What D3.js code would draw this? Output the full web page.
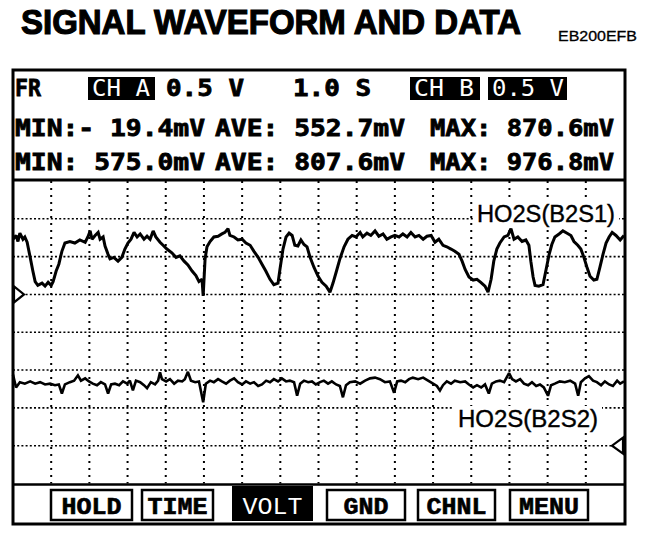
<!DOCTYPE html>
<html><head><meta charset="utf-8">
<script src="https://cdn.jsdelivr.net/npm/d3@7"></script>
<style>body{margin:0;background:#fff}svg{display:block}</style>
</head><body><svg id="c" width="672" height="542"></svg>
<script>
// ---------- DATA ----------
const title = "SIGNAL WAVEFORM AND DATA";
const code = "EB200EFB";
const headerItems = ["FR", "CH A", "0.5 V", "1.0 S", "CH B", "0.5 V"];
const statsA = ["MIN:- 19.4mV", "AVE: 552.7mV", "MAX: 870.6mV"];
const statsB = ["MIN: 575.0mV", "AVE: 807.6mV", "MAX: 976.8mV"];
const labelA = "HO2S(B2S1)";
const labelB = "HO2S(B2S2)";
const buttons = ["HOLD", "TIME", "VOLT", "GND", "CHNL", "MENU"];
const timeDomain = [0, 16];          // 1.0 s/div, 16 divisions
const voltsPerDiv = 0.5;

// channel A (HO2S B2S1): seconds / volts
const aTime = [0,0.08,0.13,0.18,0.26,0.31,0.37,0.45,0.52,0.58,0.65,0.76,0.84,0.92,1.0,1.05,1.13,1.2,1.28,1.36,1.49,1.62,1.75,1.89,1.96,2.02,2.07,2.15,2.23,2.28,2.36,2.41,2.49,2.54,2.64,2.75,2.85,2.93,3.01,3.09,3.17,3.25,3.33,3.43,3.51,3.59,3.67,3.74,3.85,3.93,4.03,4.16,4.27,4.37,4.48,4.58,4.69,4.79,4.87,4.95,4.98,5.03,5.08,5.16,5.26,5.37,5.47,5.55,5.63,5.68,5.79,5.89,6.0,6.1,6.21,6.31,6.42,6.52,6.62,6.73,6.83,6.94,6.99,7.07,7.15,7.23,7.31,7.38,7.46,7.54,7.62,7.7,7.78,7.88,7.99,8.09,8.2,8.3,8.38,8.46,8.56,8.67,8.77,8.88,8.98,9.09,9.16,9.27,9.37,9.48,9.58,9.69,9.79,9.9,10.0,10.11,10.21,10.32,10.42,10.53,10.63,10.74,10.84,10.95,11.05,11.15,11.26,11.36,11.47,11.57,11.68,11.76,11.84,11.94,12.05,12.15,12.25,12.36,12.44,12.52,12.59,12.67,12.75,12.86,12.96,13.04,13.12,13.22,13.33,13.43,13.51,13.56,13.62,13.67,13.77,13.88,13.96,14.04,14.11,14.19,14.3,14.4,14.51,14.61,14.69,14.79,14.87,14.95,15.03,15.11,15.21,15.29,15.37,15.45,15.53,15.61,15.69,15.79,15.9,16.0];
const aVolt = [0.73,0.78,0.70,0.81,0.73,0.76,0.69,0.49,0.31,0.17,0.12,0.15,0.11,0.16,0.12,0.17,0.31,0.40,0.57,0.68,0.70,0.68,0.72,0.69,0.76,0.84,0.73,0.78,0.82,0.73,0.76,0.64,0.53,0.47,0.49,0.44,0.49,0.60,0.68,0.73,0.82,0.76,0.80,0.73,0.77,0.73,0.84,0.76,0.69,0.65,0.60,0.55,0.49,0.51,0.44,0.39,0.31,0.25,0.17,0.20,-0.019,0.47,0.63,0.70,0.76,0.77,0.80,0.82,0.87,0.78,0.76,0.72,0.73,0.68,0.65,0.57,0.49,0.40,0.31,0.20,0.13,0.15,0.33,0.60,0.76,0.81,0.78,0.65,0.64,0.72,0.66,0.63,0.49,0.36,0.24,0.16,0.11,0.03,0.15,0.29,0.47,0.63,0.73,0.78,0.76,0.82,0.76,0.81,0.78,0.84,0.77,0.80,0.73,0.76,0.78,0.76,0.80,0.76,0.82,0.76,0.78,0.73,0.77,0.78,0.69,0.73,0.65,0.63,0.60,0.57,0.53,0.44,0.33,0.23,0.19,0.20,0.16,0.11,0.03,0.20,0.44,0.60,0.68,0.76,0.78,0.87,0.73,0.76,0.70,0.72,0.65,0.44,0.23,0.12,0.11,0.13,0.33,0.53,0.66,0.76,0.80,0.84,0.81,0.78,0.70,0.65,0.60,0.49,0.36,0.24,0.19,0.20,0.36,0.53,0.68,0.76,0.82,0.78,0.72,0.78];

// channel B (HO2S B2S2): seconds / volts
const bTime = [0,0.08,0.18,0.31,0.45,0.58,0.71,0.84,0.97,1.10,1.20,1.28,1.36,1.49,1.60,1.70,1.78,1.89,1.99,2.09,2.20,2.30,2.41,2.49,2.57,2.67,2.78,2.88,2.99,3.06,3.14,3.22,3.33,3.43,3.51,3.61,3.72,3.80,3.85,3.90,4.01,4.11,4.22,4.32,4.43,4.50,4.58,4.66,4.77,4.87,4.98,5.05,5.16,5.26,5.37,5.47,5.58,5.68,5.79,5.89,6.00,6.10,6.21,6.31,6.42,6.52,6.63,6.73,6.83,6.94,7.04,7.15,7.25,7.36,7.44,7.52,7.62,7.73,7.83,7.93,8.04,8.14,8.25,8.35,8.46,8.56,8.64,8.72,8.82,8.96,9.09,9.22,9.35,9.48,9.61,9.74,9.87,9.98,10.06,10.16,10.27,10.37,10.47,10.61,10.74,10.87,11.00,11.10,11.18,11.26,11.36,11.47,11.57,11.71,11.84,11.94,12.05,12.15,12.26,12.36,12.46,12.54,12.65,12.75,12.86,12.99,13.07,13.17,13.28,13.38,13.49,13.59,13.70,13.80,13.90,14.01,14.09,14.19,14.32,14.45,14.59,14.72,14.80,14.87,14.98,15.08,15.19,15.29,15.40,15.50,15.61,15.71,15.82,15.90,16.00];
const bVolt = [0.94,0.77,0.84,0.82,0.85,0.82,0.84,0.81,0.82,0.80,0.81,0.69,0.81,0.84,0.86,0.93,0.86,0.89,0.85,0.82,0.80,0.84,0.81,0.69,0.81,0.82,0.80,0.85,0.82,0.86,0.73,0.86,0.84,0.80,0.76,0.84,0.81,0.86,0.97,0.88,0.85,0.88,0.82,0.86,0.85,0.88,0.977,0.86,0.84,0.85,0.575,0.82,0.86,0.84,0.88,0.85,0.82,0.86,0.89,0.84,0.81,0.85,0.82,0.84,0.79,0.81,0.86,0.84,0.88,0.85,0.89,0.85,0.86,0.84,0.66,0.82,0.86,0.84,0.85,0.81,0.84,0.86,0.82,0.85,0.81,0.79,0.64,0.80,0.84,0.85,0.82,0.86,0.89,0.90,0.88,0.84,0.85,0.70,0.85,0.86,0.84,0.88,0.90,0.88,0.90,0.86,0.82,0.79,0.73,0.80,0.85,0.82,0.86,0.84,0.85,0.81,0.77,0.80,0.77,0.81,0.69,0.82,0.85,0.86,0.84,0.96,0.88,0.85,0.88,0.82,0.80,0.84,0.79,0.81,0.77,0.66,0.80,0.82,0.85,0.84,0.86,0.82,0.66,0.84,0.89,0.92,0.86,0.84,0.80,0.85,0.81,0.79,0.86,0.82,0.85];

// ---------- LAYOUT ----------
const svg = d3.select("#c");
const L = 13, R = 624, T = 181, B = 483.5;
const x = d3.scaleLinear().domain(timeDomain).range([L, R]);
// 8 divisions of 0.5 V; CH A ground 3 div from top, CH B ground 7 div from top
const yA = d3.scaleLinear().domain([-5 * voltsPerDiv, 3 * voltsPerDiv]).range([B, T]);
const yB = d3.scaleLinear().domain([-1 * voltsPerDiv, 7 * voltsPerDiv]).range([B, T]);

// title
svg.append("text").attr("x", 21).attr("y", 34)
  .attr("font-family", "Liberation Sans, Arial, sans-serif").attr("font-weight", "bold")
  .attr("font-size", 35).attr("textLength", 500).attr("lengthAdjust", "spacingAndGlyphs")
  .attr("stroke", "#000").attr("stroke-width", 1.2)
  .text(title);
svg.append("text").attr("x", 558).attr("y", 41)
  .attr("font-family", "Liberation Sans, Arial, sans-serif")
  .attr("font-size", 14).attr("textLength", 79).attr("lengthAdjust", "spacingAndGlyphs")
  .attr("stroke", "#000").attr("stroke-width", 0.3)
  .text(code);

// grid
const g = svg.append("g");
const vTicks = x.ticks(16).filter(t => t > timeDomain[0] && t < timeDomain[1]);
g.selectAll("line.v").data(vTicks).join("line")
  .attr("x1", d => x(d)).attr("x2", d => x(d)).attr("y1", T).attr("y2", B)
  .attr("stroke", "#000").attr("stroke-width", 2).attr("stroke-dasharray", "2,5");
const hTicks = d3.range(-4, 3).map(k => k * voltsPerDiv);
g.selectAll("line.h").data(hTicks).join("line")
  .attr("x1", L).attr("x2", R).attr("y1", d => yA(d)).attr("y2", d => yA(d))
  .attr("stroke", "#000").attr("stroke-width", 1.6).attr("stroke-dasharray", "2,2.2");

// labels with white background
function label(txt, x0, base, w) {
  svg.append("rect").attr("x", x0 - 4).attr("y", base - 21).attr("width", w + 8).attr("height", 26).attr("fill", "#fff");
  svg.append("text").attr("x", x0).attr("y", base)
    .attr("font-family", "Liberation Sans, Arial, sans-serif").attr("font-size", 23)
    .attr("stroke", "#000").attr("stroke-width", 0.4)
    .attr("textLength", w).attr("lengthAdjust", "spacingAndGlyphs").text(txt);
}
label(labelA, 477, 222, 138);
label(labelB, 458, 427, 140);

// traces
const lineA = d3.line().x(d => x(d[0])).y(d => yA(d[1]));
const lineB = d3.line().x(d => x(d[0])).y(d => yB(d[1]));
svg.append("path").datum(d3.zip(aTime, aVolt)).attr("d", lineA)
  .attr("fill", "none").attr("stroke", "#000").attr("stroke-width", 3).attr("stroke-linejoin", "miter").attr("stroke-miterlimit", 2);
svg.append("path").datum(d3.zip(bTime, bVolt)).attr("d", lineB)
  .attr("fill", "none").attr("stroke", "#000").attr("stroke-width", 2.6).attr("stroke-linejoin", "miter").attr("stroke-miterlimit", 2);

// ground markers
const ga = yA(0), gb = yB(0);
svg.append("path").attr("d", `M${L+1},${ga-8}L${L+11},${ga}L${L+1},${ga+8}Z`)
  .attr("fill", "#fff").attr("stroke", "#000").attr("stroke-width", 2.2);
svg.append("path").attr("d", `M${R-1},${gb-8}L${R-12},${gb}L${R-1},${gb+8}Z`)
  .attr("fill", "#fff").attr("stroke", "#000").attr("stroke-width", 2.2);

// frame
svg.append("rect").attr("x", 13).attr("y", 70).attr("width", 612).attr("height", 454)
  .attr("fill", "none").attr("stroke", "#000").attr("stroke-width", 3);
svg.append("line").attr("x1", 13).attr("x2", 625).attr("y1", 180).attr("y2", 180).attr("stroke", "#000").attr("stroke-width", 3);
svg.append("line").attr("x1", 13).attr("x2", 625).attr("y1", 484.5).attr("y2", 484.5).attr("stroke", "#000").attr("stroke-width", 2.5);

// header
const mono = "DejaVu Sans Mono, Liberation Mono, monospace";
const hdrBoxes = [null, [88, 155], null, null, [410, 480], [488, 567]];
const hdrX = [15, 92, 166, 293, 414, 492];
const hdrW = [26, 58, 78, 78, 60, 72];
headerItems.forEach((t, i) => {
  const inv = hdrBoxes[i];
  if (inv) svg.append("rect").attr("x", inv[0]).attr("y", 77).attr("width", inv[1] - inv[0]).attr("height", 23).attr("fill", "#000");
  svg.append("text").attr("x", hdrX[i]).attr("y", 96)
    .attr("font-family", mono).attr("font-size", 23)
    .attr("font-weight", inv ? "normal" : "bold")
    .attr("fill", inv ? "#fff" : "#000")
    .attr("stroke", inv ? "none" : "#000").attr("stroke-width", 0.8)
    .attr("textLength", hdrW[i]).attr("lengthAdjust", "spacingAndGlyphs").text(t);
});
const statX = [15, 215, 430];
const statW = [190, 190, 184];
[[statsA, 136], [statsB, 170]].forEach(([arr, base]) => {
  arr.forEach((t, i) => {
    svg.append("text").attr("x", statX[i]).attr("y", base)
      .attr("font-family", mono).attr("font-size", 23).attr("font-weight", "bold")
      .attr("stroke", "#000").attr("stroke-width", 0.8)
      .attr("textLength", statW[i]).attr("lengthAdjust", "spacingAndGlyphs").text(t);
  });
});

// buttons
const btnBoxes = [[51, 132], [142, 213], [232, 313], [327, 405], [418, 495], [510, 588]];
buttons.forEach((t, i) => {
  const [x0, x1] = btnBoxes[i];
  const active = t === "VOLT";
  if (active) {
    svg.append("rect").attr("x", x0).attr("y", 486).attr("width", x1 - x0).attr("height", 35).attr("fill", "#000");
  } else {
    svg.append("rect").attr("x", x0).attr("y", 490).attr("width", x1 - x0).attr("height", 30)
      .attr("fill", "#fff").attr("stroke", "#000").attr("stroke-width", 2.5);
  }
  const tw = t.length * 15;
  svg.append("text").attr("x", (x0 + x1) / 2 - tw / 2).attr("y", 514)
    .attr("font-family", "Liberation Mono, Courier New, monospace").attr("font-size", 23)
    .attr("font-weight", active ? "normal" : "bold").attr("fill", active ? "#fff" : "#000")
    .attr("stroke", active ? "none" : "#000").attr("stroke-width", 0.6)
    .attr("textLength", tw).attr("lengthAdjust", "spacingAndGlyphs").text(t);
});
</script></body></html>
